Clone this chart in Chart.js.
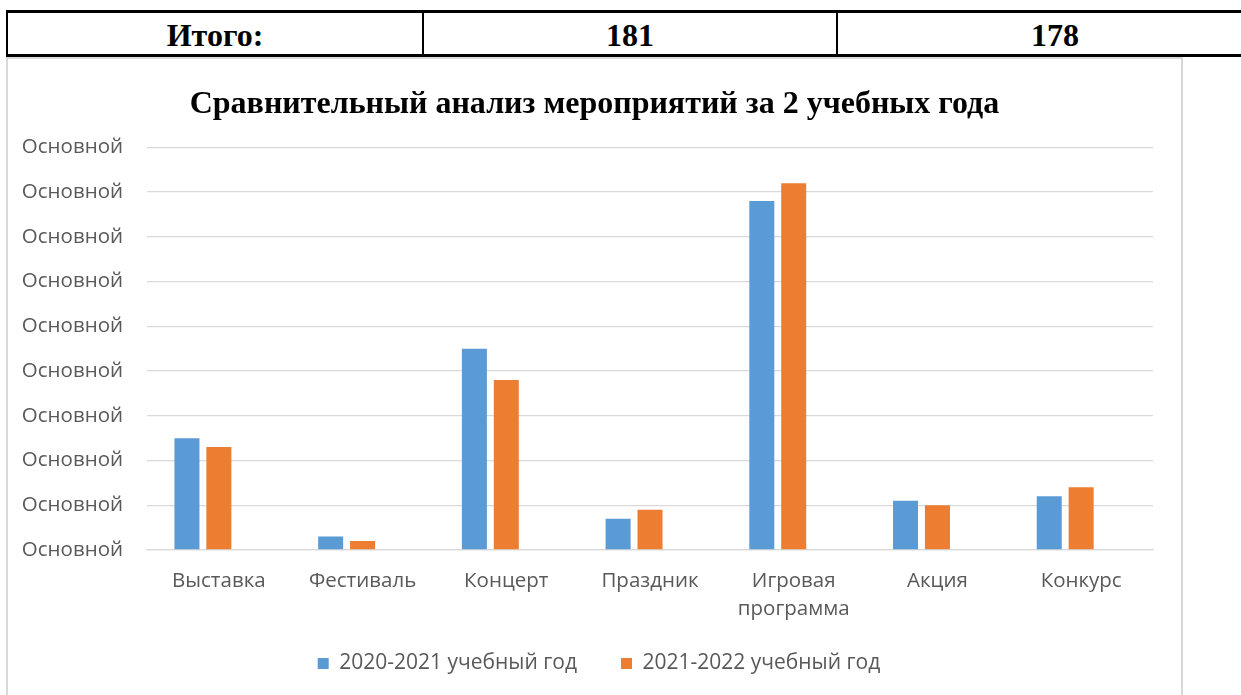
<!DOCTYPE html>
<html>
<head>
<meta charset="utf-8">
<script src="https://cdn.jsdelivr.net/npm/chart.js@4.4.1/dist/chart.umd.min.js"></script>
<style>
  html, body { margin: 0; padding: 0; background: #fff; width: 1241px; height: 695px; overflow: hidden; }
  .totals { position: absolute; left: 6px; top: 10px; width: 1300px; height: 41px;
    border-top: 3px solid #000; border-bottom: 3px solid #000; border-left: 2px solid #000;
    font-family: "Liberation Serif", "Times New Roman", serif; font-weight: bold; font-size: 32px; }
  .totals div { position: absolute; top: 0; height: 41px; line-height: 45px; text-align: center; }
  .cell1 { left: 0; width: 414px; }
  .cell2 { left: 414px; width: 412px; border-left: 2px solid #000; }
  .cell3 { left: 828px; width: 434px; border-left: 2px solid #000; }
  .box { position: absolute; left: 6px; top: 57px; width: 1173px; height: 660px; border: 2px solid #d9d9d9; background: #fff; overflow: hidden; }
</style>
</head>
<body>
<div class="totals">
  <div class="cell1">Итого:</div>
  <div class="cell2">181</div>
  <div class="cell3">178</div>
</div>
<div class="box">
  <div style="position:absolute;left:0;top:0;width:1173px;height:650px;">
    <canvas id="eventsChart"></canvas>
  </div>
</div>
<script>
const categories = ["Выставка", "Фестиваль", "Концерт", "Праздник", ["Игровая", "программа"], "Акция", "Конкурс"];
const year2021 = [25, 3, 45, 7, 78, 11, 12];
const year2022 = [23, 2, 38, 9, 82, 10, 14];
const emptySeries = [];   // third (empty) series from the template, keeps its slot
const seriesNames = ["2020-2021 учебный год", "2021-2022 учебный год", "Ряд 3"];
const chartTitle = "Сравнительный анализ мероприятий за 2 учебных года";
const tickLabel = "Основной";

const tickFont = { family: "'Open Sans', sans-serif", size: 20.5 };
const LEGEND_LIFT = 16;

// centre the title over the whole canvas and move the legend to where Excel has it
const placeBlocks = {
  id: 'placeBlocks',
  afterLayout(chart) {
    const t = chart.titleBlock;
    if (t) { t.left = 0; t.right = chart.width; }
    const lg = chart.legend;
    if (lg) {
      lg.left = 37; lg.right = chart.width - 28;
      lg.top -= LEGEND_LIFT; lg.bottom -= LEGEND_LIFT;
    }
  }
};

const barOpts = { borderWidth: 0, barPercentage: 0.784, categoryPercentage: 0.666 };

new Chart(document.getElementById("eventsChart"), {
  type: 'bar',
  data: {
    labels: categories,
    datasets: [
      { label: seriesNames[0], data: year2021, backgroundColor: '#5b9bd5', ...barOpts },
      { label: seriesNames[1], data: year2022, backgroundColor: '#ed7d31', ...barOpts },
      { label: seriesNames[2], data: emptySeries, backgroundColor: '#a5a5a5', ...barOpts }
    ]
  },
  plugins: [placeBlocks],
  options: {
    responsive: true,
    maintainAspectRatio: false,
    animation: false,
    layout: { padding: { left: 0, right: 28, top: 0, bottom: 9 } },
    scales: {
      y: {
        min: 0, max: 90,
        ticks: { stepSize: 10, color: '#595959', font: tickFont, padding: 24, callback: () => tickLabel },
        grid: { color: '#d9d9d9', lineWidth: 1.3, drawTicks: false },
        border: { display: false },
        afterFit: scale => { scale.width = 139; }
      },
      x: {
        ticks: { color: '#595959', font: { ...tickFont, lineHeight: 28 / 20.5 }, padding: 17 },
        grid: { display: false, drawTicks: false },
        border: { color: '#d9d9d9', width: 1.3 },
        afterFit: scale => { scale.height = 75; }
      }
    },
    plugins: {
      title: {
        display: true, text: chartTitle, color: '#000',
        font: { family: "'Liberation Serif', serif", size: 32, weight: 'bold' },
        padding: { top: 27, bottom: 23 }
      },
      legend: {
        position: 'bottom',
        labels: {
          color: '#595959', font: { family: "'Open Sans', sans-serif", size: 21 },
          boxWidth: 11, boxHeight: 11, padding: 44,
          filter: item => item.datasetIndex < 2
        }
      },
      tooltip: { enabled: false }
    }
  }
});
</script>
</body>
</html>
